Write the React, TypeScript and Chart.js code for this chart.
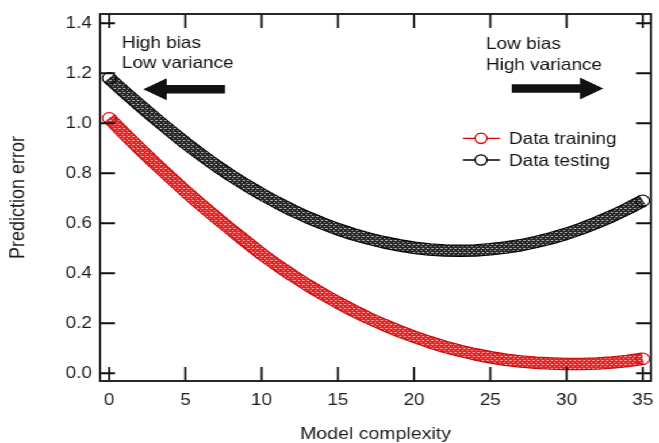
import { useEffect, useRef } from "react";
import { Chart, registerables } from "chart.js";

Chart.register(...registerables);

// ---- data ----
const complexity = [
  0, 1, 2, 3, 4, 5, 6, 7, 8, 9, 10, 11, 12, 13, 14, 15, 16, 17,
  18, 19, 20, 21, 22, 23, 24, 25, 26, 27, 28, 29, 30, 31, 32, 33, 34, 35,
];
const trainingError = [
  1.02, 0.958, 0.898, 0.84, 0.784, 0.728, 0.675, 0.624, 0.574, 0.525,
  0.477, 0.433, 0.392, 0.353, 0.317, 0.283, 0.251, 0.221, 0.194, 0.169,
  0.146, 0.125, 0.106, 0.09, 0.076, 0.064, 0.054, 0.047, 0.042, 0.039,
  0.037, 0.037, 0.039, 0.043, 0.049, 0.058,
];
const testingError = [
  1.18, 1.125, 1.072, 1.02, 0.97, 0.921, 0.875, 0.831, 0.79, 0.752,
  0.716, 0.683, 0.652, 0.624, 0.599, 0.576, 0.556, 0.539, 0.524, 0.512,
  0.502, 0.495, 0.491, 0.49, 0.491, 0.496, 0.503, 0.512, 0.525, 0.54,
  0.558, 0.579, 0.603, 0.629, 0.658, 0.69,
];
const xTicks = [0, 5, 10, 15, 20, 25, 30, 35];
const yTicks = [0, 0.2, 0.4, 0.6, 0.8, 1.0, 1.2, 1.4];
const seriesNames = ["Data training", "Data testing"];
const seriesColors = ["#e00000", "#000000"];
const bandBase = ["rgb(228,38,38)", "rgb(42,42,42)"];
const bandSpeck = ["rgb(248,165,165)", "rgb(175,175,175)"];
const outlineColors = ["#cc0000", "#000000"];
const leftNote = ["High bias", "Low variance"];
const rightNote = ["Low bias", "High variance"];
const xTitle = "Model complexity";
const yTitle = "Prediction error";

// ---- rendering constants ----
const STRETCH = 1.15; // the reference is horizontally stretched
const IW = 573;
const IH = 460;
const FAMILY = '"Liberation Sans", Arial, sans-serif';
const TEXT = "#1c1c1c";

function makePattern(base: string, speck: string): CanvasPattern | string {
  const c = document.createElement("canvas");
  c.width = 4;
  c.height = 4;
  const g = c.getContext("2d");
  if (!g) return base;
  g.fillStyle = base;
  g.fillRect(0, 0, 4, 4);
  g.fillStyle = speck;
  g.fillRect(0, 0, 1, 1);
  g.fillRect(2, 2, 1, 1);
  g.fillRect(3, 0, 1, 1);
  const p = g.createPattern(c, "repeat");
  return p || base;
}

function drawArrow(ctx: CanvasRenderingContext2D, tailX: number, baseX: number, tipX: number, cy: number) {
  const sh = 4.2;
  const hh = 11;
  ctx.beginPath();
  ctx.moveTo(tailX, cy - sh);
  ctx.lineTo(baseX, cy - sh);
  ctx.lineTo(baseX, cy - hh);
  ctx.lineTo(tipX, cy);
  ctx.lineTo(baseX, cy + hh);
  ctx.lineTo(baseX, cy + sh);
  ctx.lineTo(tailX, cy + sh);
  ctx.closePath();
  ctx.fill();
}

const outlinePlugin = {
  id: "outline",
  beforeDatasetDraw(chart: any, args: any) {
    const { ctx } = chart;
    const pts = args.meta.data;
    if (!pts || !pts.length) return;
    ctx.save();
    ctx.beginPath();
    pts.forEach((p: any, k: number) => (k ? ctx.lineTo(p.x, p.y) : ctx.moveTo(p.x, p.y)));
    ctx.lineWidth = 12.6;
    ctx.lineJoin = "round";
    ctx.lineCap = "butt";
    ctx.strokeStyle = outlineColors[args.index];
    ctx.stroke();
    ctx.restore();
  },
};

const decorPlugin = {
  id: "decor",
  afterDatasetsDraw(chart: any) {
    const { ctx, chartArea: a, scales } = chart;
    const x = scales.x;
    const y = scales.y;
    ctx.save();
    // frame
    ctx.strokeStyle = "#111";
    ctx.lineWidth = 1.8;
    ctx.strokeRect(a.left, a.top, a.right - a.left, a.bottom - a.top);
    // inward ticks on all four sides
    ctx.beginPath();
    for (const v of xTicks) {
      const px = x.getPixelForValue(v);
      ctx.moveTo(px, a.bottom);
      ctx.lineTo(px, a.bottom - 14);
      ctx.moveTo(px, a.top);
      ctx.lineTo(px, a.top + 14);
    }
    for (const v of yTicks) {
      const py = y.getPixelForValue(v);
      ctx.moveTo(a.left, py);
      ctx.lineTo(a.left + 13, py);
      ctx.moveTo(a.right, py);
      ctx.lineTo(a.right - 13, py);
    }
    ctx.stroke();

    // annotations
    ctx.fillStyle = "#111";
    ctx.font = `16.5px ${FAMILY}`;
    ctx.textAlign = "left";
    ctx.textBaseline = "alphabetic";
    ctx.fillText(leftNote[0], a.left + 19, a.top + 34);
    ctx.fillText(leftNote[1], a.left + 19, a.top + 54);
    ctx.fillText(rightNote[0], a.left + 335.6, a.top + 35);
    ctx.fillText(rightNote[1], a.left + 335.6, a.top + 55.5);
    drawArrow(ctx, a.left + 108.7, a.left + 58, a.left + 37.6, a.top + 75.2);
    drawArrow(ctx, a.left + 358, a.left + 417.3, a.left + 437.6, a.top + 74.5);

    // legend
    for (let i = 0; i < seriesNames.length; i++) {
      const ly = a.top + 124.3 + i * 21.7;
      ctx.strokeStyle = seriesColors[i];
      ctx.lineWidth = 1.3;
      ctx.beginPath();
      ctx.moveTo(a.left + 315.6, ly);
      ctx.lineTo(a.left + 347.8, ly);
      ctx.stroke();
      ctx.beginPath();
      ctx.arc(a.left + 331.3, ly, 5.2, 0, Math.PI * 2);
      ctx.fillStyle = "#fff";
      ctx.fill();
      ctx.stroke();
      ctx.fillStyle = "#111";
      ctx.fillText(seriesNames[i], a.left + 355.6, ly + 5.5);
    }
    ctx.restore();
  },
};

export default function App() {
  const ref = useRef<HTMLCanvasElement | null>(null);

  useEffect(() => {
    document.documentElement.style.overflow = "hidden";
    document.body.style.margin = "0";
    document.body.style.overflow = "hidden";
    const canvas = ref.current;
    if (!canvas) return;
    const tickFont = { family: FAMILY, size: 16.5 };
    const last = complexity.length - 1;
    const datasets = [trainingError, testingError].map((vals, i) => ({
      label: seriesNames[i],
      data: complexity.map((c, j) => ({ x: c, y: vals[j] })),
      borderColor: makePattern(bandBase[i], bandSpeck[i]),
      borderWidth: 10.4,
      borderJoinStyle: "round" as const,
      borderCapStyle: "butt" as const,
      tension: 0,
      pointRadius: complexity.map((_, j) => (j === 0 || j === last ? 5.8 : 0)),
      pointBorderWidth: 1.1,
      pointBorderColor: seriesColors[i],
      pointBackgroundColor: "rgba(0,0,0,0)",
      fill: false,
    }));
    const chart = new Chart(canvas, {
      type: "line",
      data: { datasets },
      plugins: [outlinePlugin, decorPlugin],
      options: {
        animation: false,
        responsive: false,
        maintainAspectRatio: false,
        devicePixelRatio: 1,
        layout: { padding: { left: 0, right: 2, top: 14, bottom: 0 } },
        plugins: { legend: { display: false }, tooltip: { enabled: false } },
        scales: {
          x: {
            type: "linear",
            min: -0.6,
            max: 35.54,
            afterBuildTicks: (s: any) => {
              s.ticks = xTicks.map((v) => ({ value: v }));
            },
            afterFit: (s: any) => {
              s.height = IH - 381;
              s.paddingLeft = 0;
              s.paddingRight = 0;
            },
            grid: { display: false, drawTicks: false },
            border: { display: false },
            ticks: {
              font: tickFont,
              color: TEXT,
              padding: 9.5,
              maxRotation: 0,
              autoSkip: false,
              callback: (v: any) => String(v),
            },
            title: {
              display: true,
              text: xTitle,
              color: TEXT,
              font: { family: FAMILY, size: 17 },
              padding: { top: 0, bottom: 15 },
            },
          },
          y: {
            type: "linear",
            min: -0.031,
            max: 1.437,
            afterBuildTicks: (s: any) => {
              s.ticks = yTicks.map((v) => ({ value: v }));
            },
            afterFit: (s: any) => {
              s.width = 87;
              s.paddingTop = 0;
              s.paddingBottom = 0;
            },
            grid: { display: false, drawTicks: false },
            border: { display: false },
            ticks: {
              font: tickFont,
              color: TEXT,
              padding: 7,
              autoSkip: false,
              callback: (v: any) => Number(v).toFixed(1),
            },
            title: {
              display: true,
              text: yTitle,
              color: TEXT,
              font: { family: FAMILY, size: 18 },
              padding: { top: 5, bottom: 0 },
            },
          },
        },
      },
    });
    return () => chart.destroy();
  }, []);

  return (
    <div
      style={{
        position: "absolute",
        left: 0,
        top: 0,
        width: IW,
        height: IH,
        transform: `scaleX(${STRETCH})`,
        transformOrigin: "0 0",
        background: "#fff",
      }}
    >
      <canvas ref={ref} width={IW} height={IH} style={{ display: "block" }} />
    </div>
  );
}
